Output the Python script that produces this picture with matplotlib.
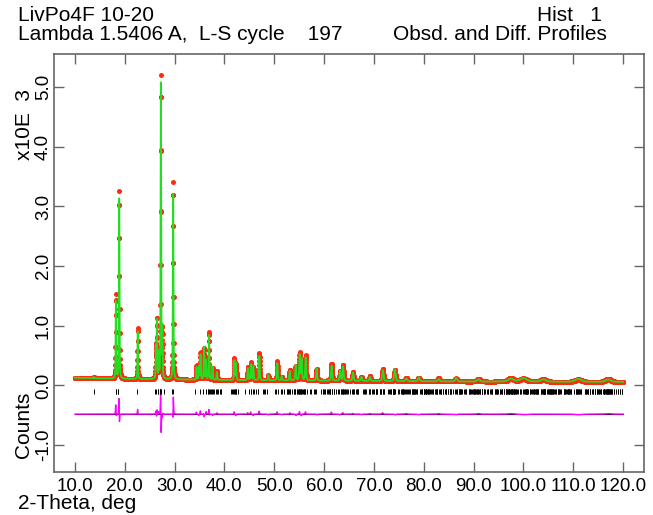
import numpy as np
import matplotlib
matplotlib.use("Agg")
import matplotlib.pyplot as plt

# ---------------- data ----------------
x_start, x_stop, x_step = 10.0, 120.0, 0.02          # 2-theta scan, deg

# Bragg peaks: position (deg), observed height, calculated height (x10^3 counts above bkg)
peak_pos    = [13.8, 18.22, 18.88, 22.60, 26.25, 26.45, 26.80, 27.24, 27.55, 29.72,
               34.40, 34.90, 35.20, 35.90, 36.30, 36.90, 37.60, 38.50, 42.00, 42.35,
               44.70, 45.30, 45.80, 47.00, 48.80, 50.60, 51.50, 53.10, 54.30, 55.10,
               55.50, 56.30, 58.50, 61.50, 63.20, 63.80, 65.80, 67.50, 69.20, 71.80,
               74.20, 76.50, 79.00, 83.00, 86.50, 91.00, 97.50, 100.0, 104.0, 111.0,
               117.0]
obs_height  = [0.02, 1.40, 3.14, 0.86, 0.55, 1.00, 0.45, 5.08, 0.80, 3.30,
               0.24, 0.20, 0.46, 0.52, 0.36, 0.80, 0.20, 0.15, 0.36, 0.26,
               0.22, 0.30, 0.22, 0.45, 0.08, 0.32, 0.06, 0.18, 0.24, 0.46,
               0.33, 0.42, 0.20, 0.28, 0.16, 0.26, 0.15, 0.06, 0.08, 0.20,
               0.19, 0.06, 0.06, 0.05, 0.05, 0.05, 0.06, 0.05, 0.04, 0.04,
               0.05]
calc_height = [0.02, 1.30, 3.04, 0.80, 0.52, 0.97, 0.42, 5.00, 0.83, 3.12,
               0.21, 0.22, 0.42, 0.55, 0.33, 0.75, 0.22, 0.13, 0.33, 0.28,
               0.20, 0.27, 0.24, 0.41, 0.09, 0.29, 0.07, 0.16, 0.26, 0.43,
               0.35, 0.39, 0.21, 0.25, 0.17, 0.24, 0.14, 0.07, 0.07, 0.18,
               0.20, 0.05, 0.07, 0.04, 0.06, 0.04, 0.05, 0.06, 0.04, 0.05,
               0.04]
calc_shift  = [0.0, 0.006, 0.006, 0.004, 0.005, -0.005, 0.004, 0.007, -0.004, -0.005,
               0.006, -0.005, 0.006, 0.005, -0.006, 0.006, 0.005, -0.005, 0.006, -0.005,
               0.005, 0.006, -0.006, 0.006, 0.005, 0.006, 0.0, -0.006, 0.006, 0.007,
               -0.006, 0.006, 0.005, 0.007, -0.006, 0.007, 0.006, 0.0, 0.0, 0.008,
               0.007, 0.0, 0.0, 0.0, 0.0, 0.0, 0.0, 0.0, 0.0, 0.0,
               0.0]
peak_fwhm   = [0.12, 0.13, 0.13, 0.13, 0.13, 0.13, 0.13, 0.13, 0.13, 0.14,
               0.15, 0.15, 0.15, 0.15, 0.15, 0.15, 0.15, 0.16, 0.17, 0.17,
               0.18, 0.18, 0.18, 0.18, 0.19, 0.19, 0.20, 0.20, 0.21, 0.21,
               0.21, 0.22, 0.22, 0.24, 0.24, 0.25, 0.26, 0.27, 0.28, 0.30,
               0.32, 0.34, 0.36, 0.40, 0.45, 0.60, 1.20, 1.50, 1.20, 1.50,
               1.20]

# background level (x10^3 counts)
bkg_x = [10, 20, 30, 40, 50, 60, 70, 80, 90, 100, 110, 120]
bkg_y = [0.13, 0.11, 0.10, 0.09, 0.085, 0.08, 0.075, 0.07, 0.065, 0.065, 0.06, 0.06]

# LiVPO4F triclinic cell used for reflection markers
cell_a, cell_b, cell_c = 5.1687, 5.3078, 7.2505
cell_alpha, cell_beta, cell_gamma = 72.478, 107.929, 81.656
wavelength = 1.5406

diff_offset = -0.48
refl_lo, refl_hi = -0.15, -0.06

x_ticks = [10, 20, 30, 40, 50, 60, 70, 80, 90, 100, 110, 120]
x_ticklabels = ["10.0", "20.0", "30.0", "40.0", "50.0", "60.0", "70.0", "80.0",
                "90.0", "100.0", "110.0", "120.0"]
y_ticks = [-1, 0, 1, 2, 3, 4, 5]
y_ticklabels = ["-1.0", "0.0", "1.0", "2.0", "3.0", "4.0", "5.0"]

# ---------------- build profiles ----------------
tt = np.arange(x_start, x_stop + x_step / 2, x_step)
bkg = np.interp(tt, bkg_x, bkg_y)


def pvoigt(x, x0, w, eta=0.45):
    z = (x - x0) / w
    return eta / (1 + 4 * z * z) + (1 - eta) * np.exp(-4 * np.log(2) * z * z)


obs = bkg.copy()
calc = bkg.copy()
for p, ho, hc, s, w in zip(peak_pos, obs_height, calc_height, calc_shift, peak_fwhm):
    obs += ho * pvoigt(tt, p, w)
    calc += hc * pvoigt(tt, p + s, w)
diff = obs - calc

# reflection positions from the cell
ca, cb, cg = np.cos(np.radians([cell_alpha, cell_beta, cell_gamma]))
G = np.array([[cell_a**2, cell_a * cell_b * cg, cell_a * cell_c * cb],
              [cell_a * cell_b * cg, cell_b**2, cell_b * cell_c * ca],
              [cell_a * cell_c * cb, cell_b * cell_c * ca, cell_c**2]])
Gs = np.linalg.inv(G)
rng = np.arange(-10, 11)
H, K, L = np.meshgrid(rng, rng, rng, indexing="ij")
hkl = np.stack([H.ravel(), K.ravel(), L.ravel()], axis=1)
hkl = hkl[np.any(hkl != 0, axis=1)]
q = np.einsum("ij,jk,ik->i", hkl, Gs, hkl)
sin_t = wavelength * np.sqrt(q) / 2
sin_t = sin_t[sin_t < 1]
refl = np.degrees(2 * np.arcsin(sin_t))
refl = np.unique(np.round(refl[(refl >= x_start) & (refl <= x_stop)], 3))

# ---------------- plot ----------------
plt.rcParams["font.family"] = ["Liberation Sans", "DejaVu Sans"]
fig = plt.figure(figsize=(6.53, 5.15), dpi=100)
ax = fig.add_axes([54 / 653, 1 - 472 / 515, 590 / 653, (472 - 54.3) / 515])

ax.axhline(diff_offset, xmin=(x_start - 5.8) / (124.2 - 5.8),
           xmax=(x_stop - 5.8) / (124.2 - 5.8), color="black", lw=0.8, zorder=1)
ax.plot(tt, diff + diff_offset, color="#ff00ff", lw=1.0, zorder=2)
ax.vlines(refl, refl_lo, refl_hi, color="black", lw=0.7, zorder=2)
ax.plot(tt, obs, linestyle="none", marker="o", markersize=3.6,
        markerfacecolor="#ff2a10", markeredgecolor="none", zorder=3)
ax.plot(tt, calc, color="#22dd22", lw=1.3, zorder=4)

ax.set_xlim(5.8, 124.2)
ax.set_ylim(-1.45, 5.55)
ax.set_xticks(x_ticks)
ax.set_xticklabels(x_ticklabels)
ax.set_yticks(y_ticks)
ax.set_yticklabels(y_ticklabels, rotation=90, va="center", ha="center")
ax.tick_params(axis="both", direction="in", length=7, width=1.0, color="#666666",
               labelsize=13.5, top=True, right=True)
ax.tick_params(axis="x", pad=4)
ax.tick_params(axis="y", pad=7.5)
for sp in ax.spines.values():
    sp.set_color("#666666")
    sp.set_linewidth(1.2)

fs = 15
fig.text(18 / 653, 1 - 21 / 515, "LivPo4F 10-20", fontsize=fs, va="baseline")
fig.text(602 / 653, 1 - 21 / 515, "Hist   1", fontsize=fs, va="baseline", ha="right")
fig.text(18 / 653, 1 - 40 / 515, "Lambda 1.5406 A,  L-S cycle    197",
         fontsize=fs, va="baseline")
fig.text(607 / 653, 1 - 40 / 515, "Obsd. and Diff. Profiles", fontsize=fs,
         va="baseline", ha="right")
fig.text(24 / 653, 1 - 125 / 515, "x10E  3", fontsize=fs, rotation=90,
         ha="center", va="center")
fig.text(24 / 653, 1 - 425 / 515, "Counts", fontsize=fs, rotation=90,
         ha="center", va="center")
fig.text(18 / 653, 1 - 509 / 515, "2-Theta, deg", fontsize=fs, va="baseline")

fig.savefig("out.png", dpi=100)
